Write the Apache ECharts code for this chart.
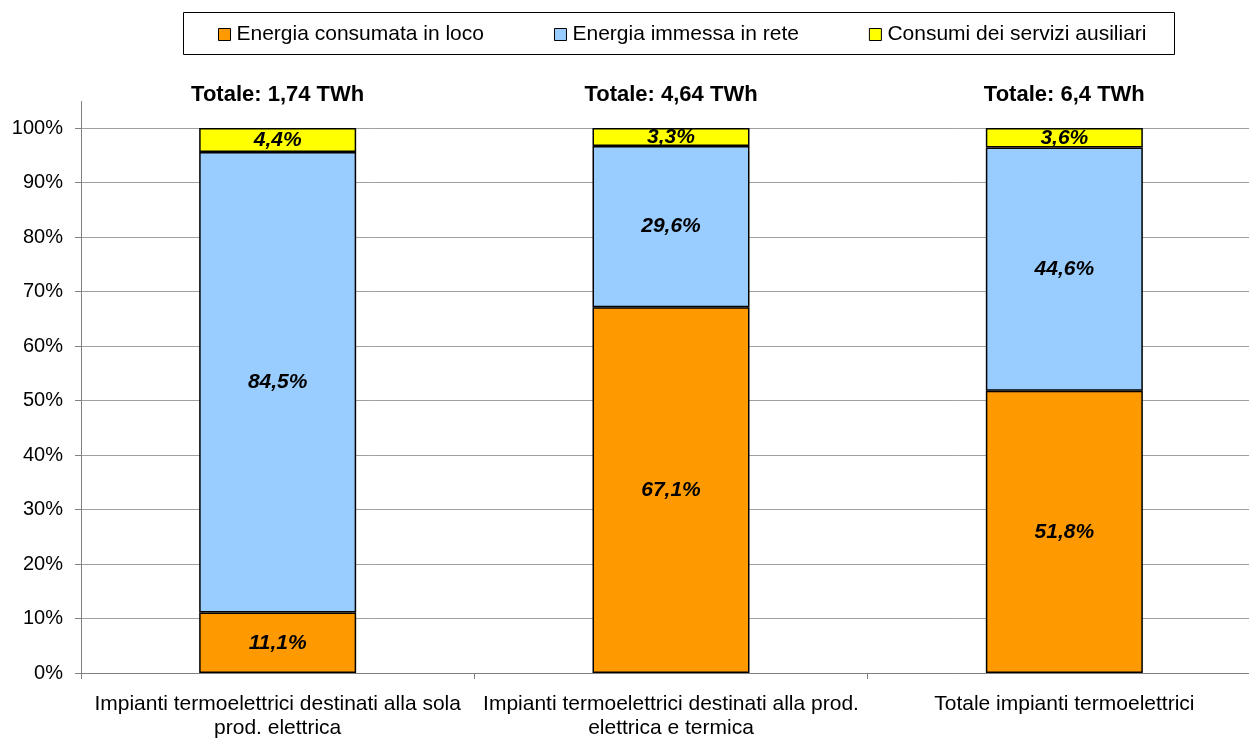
<!DOCTYPE html>
<html><head><meta charset="utf-8">
<script src="https://cdn.jsdelivr.net/npm/echarts@6/dist/echarts.min.js"></script>
<style>html,body{margin:0;padding:0;background:#fff}#c{width:1249px;height:738px}</style>
</head><body><div id="c"></div>
<script>
const categories = ["Impianti termoelettrici destinati alla sola\nprod. elettrica", "Impianti termoelettrici destinati alla prod.\nelettrica e termica", "Totale impianti termoelettrici"];
const seriesNames = ["Energia consumata in loco", "Energia immessa in rete", "Consumi dei servizi ausiliari"];
const consumataLoco = [11.1, 67.1, 51.8];
const immessaRete = [84.5, 29.6, 44.6];
const serviziAusiliari = [4.4, 3.3, 3.6];
const totali = ["1,74", "4,64", "6,4"];
const yTicks = [0, 10, 20, 30, 40, 50, 60, 70, 80, 90, 100];
const colors = ["#FF9900", "#99CCFF", "#FFFF00"];

const chart = echarts.init(document.getElementById('c'));
const fmt = p => p.value.toFixed(1).replace('.', ',') + '%';
const lbl = {show: true, position: 'inside', formatter: fmt, fontFamily: 'Liberation Sans, Arial', fontSize: 21, fontWeight: 'bold', fontStyle: 'italic', color: '#000'};
function mk(name, data, color) {
  return {name, type: 'bar', stack: 's', data, barWidth: 157,
    itemStyle: {color, borderColor: '#000', borderWidth: 1.5}, label: lbl, emphasis: {disabled: true}};
}
chart.setOption({
  animation: false,
  textStyle: {fontFamily: 'Liberation Sans, Arial'},
  legend: {
    data: seriesNames, left: 218, top: 24, icon: 'rect',
    orient: 'horizontal', padding: 0, itemGap: 70, itemWidth: 12, itemHeight: 12,
    textStyle: {fontSize: 21, color: '#000', padding: [0, 0, 0, 1]},
    itemStyle: {borderColor: '#000', borderWidth: 1}
  },
  grid: {left: 81, top: 128, width: 1180, bottom: 65, containLabel: false, outerBoundsMode: 'none'},
  xAxis: {
    type: 'category', data: categories,
    axisLine: {lineStyle: {color: '#808080', width: 1}},
    axisTick: {show: true, length: 6, lineStyle: {color: '#808080'}},
    axisLabel: {fontSize: 21, color: '#000', margin: 19, lineHeight: 24, interval: 0}
  },
  yAxis: {
    type: 'value', min: 0, max: 100, interval: 10,
    axisLine: {show: true, lineStyle: {color: '#808080'}},
    axisTick: {show: true, length: 6, lineStyle: {color: '#808080'}},
    axisLabel: {fontSize: 20, color: '#000', margin: 18, formatter: v => yTicks.includes(v) ? v + '%' : ''},
    splitLine: {lineStyle: {color: '#A0A0A0', width: 1}}
  },
  graphic: [
    {type: 'line', shape: {x1: 81.5, y1: 101, x2: 81.5, y2: 128}, style: {stroke: '#808080', lineWidth: 1}},
    {type: 'rect', shape: {x: 183.5, y: 12.5, width: 991, height: 42}, style: {fill: 'none', stroke: '#000', lineWidth: 1}}
  ],
  series: [
    mk(seriesNames[0], consumataLoco, colors[0]),
    mk(seriesNames[1], immessaRete, colors[1]),
    mk(seriesNames[2], serviziAusiliari, colors[2]),
    {name: 'totale', type: 'bar', stack: 's', data: [0, 0, 0], barWidth: 157,
     itemStyle: {color: 'transparent'},
     label: {show: true, position: 'top', distance: 22, fontSize: 22, fontWeight: 'bold', color: '#000',
       formatter: p => 'Totale: ' + totali[p.dataIndex] + ' TWh'}, emphasis: {disabled: true}}
  ]
});
</script></body></html>
